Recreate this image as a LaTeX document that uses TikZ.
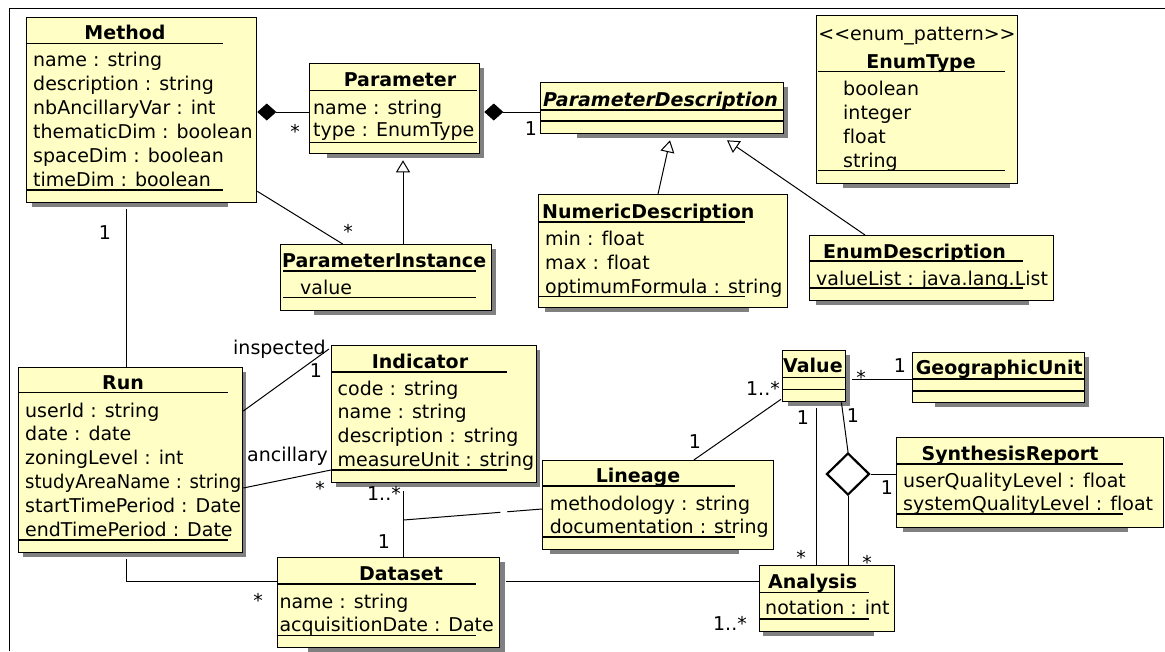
\documentclass[tikz,border=0pt]{standalone}
\usepackage{fontspec}
\setmainfont[Ligatures=NoCommon]{DejaVu Sans}
\usetikzlibrary{arrows.meta,shapes.geometric,calc,backgrounds}
\definecolor{umlfill}{RGB}{255,255,197}
\definecolor{shade}{RGB}{128,128,128}
\newcommand\UB[5]{\node[umlbox, minimum width=#4, minimum height=#5] (#1) at (#2,#3) {};}
\newcommand\SH[4]{\fill[shd] (#1,#2) rectangle (#3,#4);}
\newcommand\SP[3]{\draw[seprule] (#2,#1) -- (#3,#1);}
\begin{document}
\begin{tikzpicture}[x=1pt,y=-1pt,
  every node/.style={font=\fontsize{19}{24}\selectfont},
  umlbox/.style={draw=black, fill=umlfill, line width=1.3pt, inner sep=0pt, anchor=north west},
  seprule/.style={line width=1.5pt},
  shd/.style={fill=shade},
  conn/.style={line width=1pt},
  lbl/.style={inner sep=0pt, anchor=base},
  lble/.style={inner sep=0pt, anchor=base east},
  attr/.style={inner sep=0pt, anchor=base west},
  ti/.style={inner sep=0pt, anchor=base, font=\fontsize{19}{24}\selectfont\bfseries},
  tiw/.style={inner sep=0pt, anchor=base west, font=\fontsize{19}{24}\selectfont\bfseries},
  gen/.style={conn, -{Triangle[open,length=12pt,width=14pt]}},
  comp/.style={conn, {Diamond[length=19pt,width=17pt]}-},
]
\useasboundingbox (0,0) rectangle (1165,651);
\draw[line width=1.6pt] (9.5,651) -- (9.5,8.5) -- (1165,8.5);

% boxes
\UB{method}{26}{17}{230}{185}
\UB{param}{309}{63}{170}{90}
\UB{pdesc}{540}{82}{243}{51}
\UB{enumtype}{816}{15}{201}{168}
\UB{numdesc}{538}{194}{249}{113}
\UB{enumdesc}{809}{235}{244}{65}
\UB{pinst}{280}{244}{211}{66}
\UB{run}{18}{367}{224}{185}
\UB{indic}{331}{345}{205}{137}
\UB{lineage}{542}{460}{231}{89}
\UB{value}{782}{350}{63}{51}
\UB{geo}{912}{352}{172}{50}
\UB{synth}{896}{437}{267}{90}
\UB{analysis}{759}{565}{135}{66}
\UB{dataset}{277}{557}{222}{90}

\node[draw, fill=white, line width=2.2pt, shape=diamond, inner sep=0pt,
  minimum width=43pt, minimum height=42pt] (tern) at (848,474) {};

% separators
\SP{43.3}{26}{223}\SP{190}{26}{223}
\SP{90.7}{309}{477}\SP{142.7}{309}{477}
\SP{110}{540}{783}\SP{121}{540}{783}
\SP{71.7}{818}{1005}\SP{170.7}{818}{1005}
\SP{222}{538}{745}\SP{296.7}{538}{745}
\SP{261}{809}{1023}\SP{288}{809}{1023}
\SP{271}{283}{476}\SP{297.7}{283}{476}
\SP{392.7}{18}{227.5}\SP{540}{18}{227.5}
\SP{372}{331}{507}\SP{470}{331}{507}
\SP{486}{542}{734.5}\SP{537}{542}{734.5}
\SP{377.7}{782}{845}\SP{389.3}{782}{845}
\SP{379}{912}{1084}\SP{391}{912}{1084}
\SP{464}{896}{1123}\SP{514}{896}{1123}
\SP{592.3}{759}{869}\SP{619}{759}{869}
\SP{584}{277}{476}\SP{635.7}{277}{476}

% texts
\node[ti] (mt) at (125,39.5) {Method};
\node[attr] (m1) at (33,66.7) {name : string};
\node[attr] (m2) at (33,90.7) {description : string};
\node[attr] (m3) at (33,114.7) {nbAncillaryVar : int};
\node[attr] (m4) at (33,138.7) {thematicDim : boolean};
\node[attr] (m5) at (33,162.7) {spaceDim : boolean};
\node[attr] (m6) at (33,186.7) {timeDim : boolean};

\node[ti] (pt) at (400,86) {Parameter};
\node[attr] (p1) at (313,114) {name : string};
\node[attr] (p2) at (313,136) {type : EnumType};

\node[tiw, font=\fontsize{19}{24}\selectfont\bfseries\itshape] (pdt) at (543,106) {ParameterDescription};

\node[lbl] (e0) at (917,40) {{<}{<}enum\_pattern{>}{>}};
\node[ti] (et) at (921,68.5) {EnumType};
\node[attr] (e1) at (843,95) {boolean};
\node[attr] (e2) at (843,119) {integer};
\node[attr] (e3) at (843,143) {float};
\node[attr] (e4) at (843,167) {string};

\node[tiw] (ndt) at (542,218.5) {NumericDescription};
\node[attr] (n1) at (545,245) {min : float};
\node[attr] (n2) at (545,269) {max : float};
\node[attr] (n3) at (545,293) {optimumFormula : string};

\node[tiw] (edt) at (823,258) {EnumDescription};
\node[attr] (ed1) at (816,285) {valueList : java.lang.List};

\node[tiw] (pit) at (282,267.5) {ParameterInstance};
\node[attr] (pi1) at (300,294) {value};

\node[ti] (rt) at (123,389) {Run};
\node[attr] (r1) at (25,417) {userId : string};
\node[attr] (r2) at (25,440.8) {date : date};
\node[attr] (r3) at (25,464.6) {zoningLevel : int};
\node[attr] (r4) at (25,488.4) {\scalebox{0.95}[1]{studyAreaName : string}};
\node[attr] (r5) at (25,512.2) {startTimePeriod : Date};
\node[attr] (r6) at (25,536) {endTimePeriod : Date};

\node[ti] (it) at (420,368.5) {Indicator};
\node[attr] (i1) at (337.5,395) {code : string};
\node[attr] (i2) at (337.5,418.7) {name : string};
\node[attr] (i3) at (337.5,442.3) {description : string};
\node[attr] (i4) at (337.5,466) {measureUnit : string};

\node[ti] (lt) at (638,482.5) {Lineage};
\node[attr] (li1) at (549.6,510) {methodology : string};
\node[attr] (li2) at (549.6,533.7) {documentation : string};

\node[tiw] (vt) at (783,372.5) {Value};
\node[tiw] (gt) at (915.6,374.5) {GeographicUnit};

\node[ti] (st) at (1010,460) {SynthesisReport};
\node[attr] (s1) at (903,487) {userQualityLevel : float};
\node[attr] (s2) at (903,510) {systemQualityLevel : float};

\node[tiw] (at1) at (768,588.5) {Analysis};
\node[attr] (a1) at (765,614) {notation : int};

\node[ti] (dt) at (401,580) {Dataset};
\node[attr] (d1) at (279.3,608) {name : string};
\node[attr] (d2) at (279.3,631) {acquisitionDate : Date};

% multiplicities and roles
\node[lbl] (l1) at (295,138) {*};
\node[lbl] (l2) at (531,135) {1};
\node[lbl] (l3) at (348,238) {*};
\node[lbl] (l4) at (105,239) {1};
\node[lble] (l5) at (326,354) {inspected};
\node[lbl] (l6) at (316,377) {1};
\node[lble] (l7) at (328,461) {ancillary};
\node[lbl] (l8) at (320,495) {*};
\node[lble] (l9) at (401,500) {1..*};
\node[lbl] (l10) at (384,548) {1};
\node[lbl] (l11) at (258,607) {*};
\node[lble] (l12) at (747,630) {1..*};
\node[lbl] (l13) at (695,448) {1};
\node[lble] (l14) at (780,395) {1..*};
\node[lbl] (l15) at (803,424) {1};
\node[lbl] (l16) at (801,564) {*};
\node[lbl] (l17) at (861,384) {*};
\node[lbl] (l18) at (900,372) {1};
\node[lbl] (l19) at (853,422) {1};
\node[lbl] (l20) at (887,494) {1};
\node[lbl] (l21) at (867,569) {*};

\begin{scope}[on background layer]
\SH{32}{22}{228}{207}
\SH{327}{68}{484}{158}
\SH{577}{87}{788}{138}
\SH{843}{20}{1010}{188}
\SH{545}{199}{749}{312}
\SH{816}{240}{1029}{305}
\SH{314}{249}{496}{315}
\SH{23}{372}{246}{557}
\SH{336}{350}{540}{487}
\SH{550}{465}{739}{554}
\SH{788}{355}{850}{406}
\SH{935}{357}{1089}{407}
\SH{903}{442}{1128}{532}
\SH{763}{570}{874}{636}
\SH{308}{562}{505}{652}

\draw[comp] (method.east |- 0,112) -- (param.west |- 0,112);
\draw[comp] ($(param.east |- 0,112)+(4,0)$) -- (pdesc.west |- 0,112);
\draw[conn] ($(method.south east)+(0,-12)$) -- ($(pinst.north west)+(62.7,0)$);
\draw[gen] (403,0 |- pinst.north) -- ($(403,0 |- param.south)+(0,6)$);
\draw[gen] (658,0 |- numdesc.north) -- ($(670,0 |- pdesc.south)+(0,6)$);
\draw[gen] (865,0 |- enumdesc.north) -- ($(727,0 |- pdesc.south)+(0,6)$);
\draw[conn] ($(126,0 |- method.south)+(0,6)$) -- (126,0 |- run.north);
\draw[conn] (run.east |- 0,411) -- ($(indic.north west)+(-2,4)$);
\draw[conn] (run.east |- 0,488) -- (indic.west |- 0,470);
\draw[conn] ($(403.6,0 |- indic.south)+(0,8)$) -- (403.6,0 |- dataset.north);
\coordinate (acpt) at (403.6,520);
\draw[conn, dash pattern=on 97pt off 7pt] (acpt) -- (lineage.west |- 0,509);
\draw[conn] ($(126,0 |- run.south)+(0,6)$) |- (dataset.west |- 0,581.7);
\draw[conn] ($(dataset.east |- 0,581.7)+(6,0)$) -- (analysis.west |- 0,581.7);
\draw[conn] (693.8,0 |- lineage.north) -- ($(value.south west)+(-1,-3)$);
\draw[conn] ($(816,0 |- value.south)+(0,6)$) -- (816,0 |- analysis.north);
\draw[conn] ($(value.east |- 0,379.3)+(6,0)$) -- (geo.west |- 0,379.3);
\draw[conn] (841.4,0 |- value.south) -- (tern.north);
\draw[conn] (tern.east) -- (synth.west |- tern.east);
\draw[conn] (tern.south) -- (tern.south |- analysis.north);
\end{scope}
\end{tikzpicture}
\end{document}
